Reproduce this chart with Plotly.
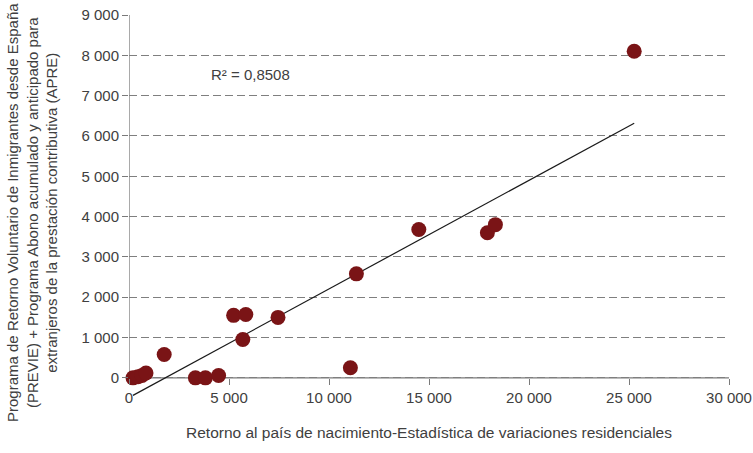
import numpy as np
import plotly.graph_objects as go

# Data
retorno_pais = [25260, 14490, 17920, 18320, 11370, 5230, 5840, 7450, 5690,
                11070, 1760, 3320, 3820, 4480, 200, 450, 650, 850]
programas_retorno = [8100, 3680, 3600, 3800, 2580, 1550, 1570, 1500, 950,
                     250, 580, 0, 0, 60, 0, 30, 60, 120]

x_ticks = [0, 5000, 10000, 15000, 20000, 25000, 30000]
y_ticks = [0, 1000, 2000, 3000, 4000, 5000, 6000, 7000, 8000, 9000]
r2_label = "R² = 0,8508"

x_title = "Retorno al país de nacimiento-Estadística de variaciones residenciales"
y_title = ("Programa de Retorno Voluntario de Inmigrantes desde España<br>"
           "(PREVIE) + Programa Abono acumulado y anticipado para<br>"
           "extranjeros de la prestación contributiva (APRE)")

xs = np.array(retorno_pais, dtype=float)
ys = np.array(programas_retorno, dtype=float)
slope, intercept = np.polyfit(xs, ys, 1)
trend_x = [xs.min(), xs.max()]
trend_y = [slope * v + intercept for v in trend_x]

FONT = "Liberation Sans, Arial, sans-serif"
TXT = "#404040"
AX = "#7a7a7a"
Y_MIN, Y_MAX = -450, 9000
FS = 15
PLOT_W = 753 - 129 - 24

fig = go.Figure()
fig.add_trace(go.Scatter(x=trend_x, y=trend_y, mode="lines",
                         line=dict(color="#1a1a1a", width=1.2),
                         hoverinfo="skip", showlegend=False))
fig.add_trace(go.Scatter(x=retorno_pais, y=programas_retorno, mode="markers",
                         marker=dict(color="#7a1416", size=15, line=dict(width=0)),
                         cliponaxis=False, showlegend=False))

# axis lines
fig.add_shape(type="line", xref="x", yref="y", x0=0, x1=30000, y0=0, y1=0,
              line=dict(color=AX, width=1.3), layer="below")
fig.add_shape(type="line", xref="x", yref="y", x0=0, x1=0, y0=0, y1=9000,
              line=dict(color=AX, width=1.3), layer="below")

fig.add_annotation(x=6050, y=7520, xref="x", yref="y", text=r2_label,
                   showarrow=False, font=dict(family=FONT, size=FS, color=TXT))

fig.add_annotation(x=(32 - 129) / PLOT_W, y=(198 - 15) / (396 - 15),
                   xref="paper", yref="paper",
                   text=y_title, textangle=-90, showarrow=False,
                   xanchor="center", yanchor="middle",
                   font=dict(family=FONT, size=FS, color=TXT))

fig.update_layout(
    width=753, height=453,
    margin=dict(l=129, r=24, t=15, b=57),
    paper_bgcolor="white", plot_bgcolor="white",
    separators=", ",
    font=dict(family=FONT, size=FS, color=TXT),
    xaxis=dict(range=[0, 30000], tickvals=x_ticks, tickformat=",d",
               showgrid=False, zeroline=False, showline=False,
               ticks="outside", ticklen=6, tickcolor=AX, tickwidth=1.3,
               anchor="free", position=(0 - Y_MIN) / (Y_MAX - Y_MIN),
               ticklabeloverflow="allow",
               tickfont=dict(family=FONT, size=FS, color=TXT),
               title=dict(text=x_title, standoff=22,
                          font=dict(family=FONT, size=15.5, color=TXT)),
               automargin=False),
    yaxis=dict(range=[Y_MIN, Y_MAX], tickvals=y_ticks, tickformat=",d",
               showgrid=True, gridcolor="#7f7f7f", griddash="8px,4px", gridwidth=1,
               zeroline=False, showline=False,
               ticks="outside", ticklen=6, tickcolor=AX, tickwidth=1.3,
               tickfont=dict(family=FONT, size=FS, color=TXT),
               automargin=False),
)

fig.write_html("out.html", config={"displayModeBar": False},
               post_script="document.body.style.margin='0';")
